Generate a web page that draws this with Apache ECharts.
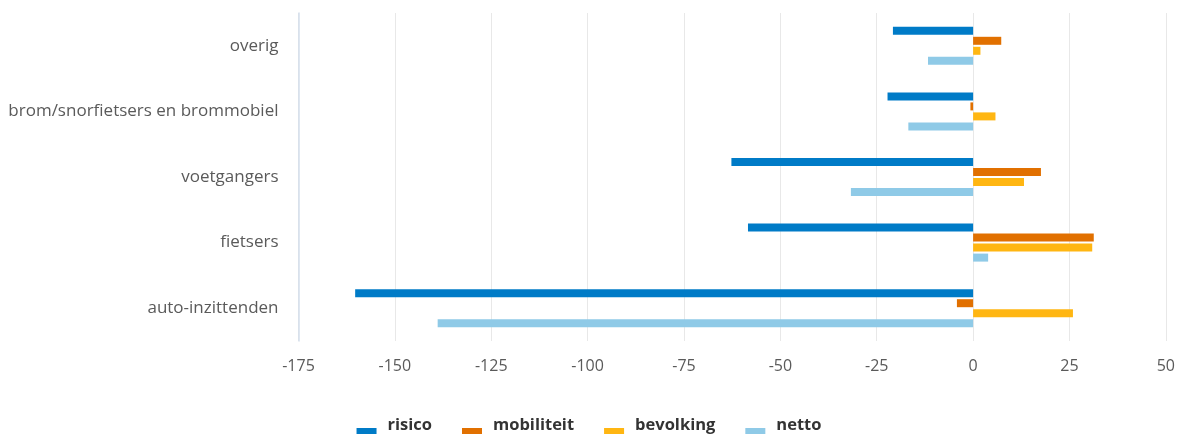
<!DOCTYPE html>
<html>
<head>
<meta charset="utf-8">
<script src="https://cdn.jsdelivr.net/npm/echarts@6/dist/echarts.min.js"></script>
<style>
html,body{margin:0;padding:0;background:#fff;}
#chart{width:1178px;height:434px;}
</style>
</head>
<body>
<div id="chart"></div>
<script>
// Categories, bottom to top as drawn on the y axis
var categories = ['auto-inzittenden', 'fietsers', 'voetgangers', 'brom/snorfietsers en brommobiel', 'overig'];
var seriesNames = ['risico', 'mobiliteit', 'bevolking', 'netto'];
var risico     = [-160.3, -58.4, -62.7, -22.2, -20.8];
var mobiliteit = [-4.2, 31.3, 17.6, -0.7, 7.3];
var bevolking  = [25.9, 30.9, 13.2, 5.8, 1.9];
var netto      = [-138.9, 3.9, -31.7, -16.8, -11.7];
var xTicks = { min: -175, max: 50, interval: 25 };

var colors = ['#007bc7', '#e17000', '#ffb612', '#8fcae7'];
var values = [risico, mobiliteit, bevolking, netto];

var chart = echarts.init(document.getElementById('chart'), null, { renderer: 'canvas' });
var font = '"Open Sans", "Noto Sans", sans-serif';
var legendIcon = 'path://M0,0 L26,0 L26,0.01 Z M0,12 L20,12 L20,18 L0,18 Z';

var series = seriesNames.map(function (name, i) {
  return {
    name: name,
    type: 'bar',
    data: values[i],
    barWidth: 8,
    barGap: '25%',
    itemStyle: { color: colors[i] },
    emphasis: { disabled: true },
    animation: false
  };
});

chart.setOption({
  animation: false,
  textStyle: { fontFamily: font },
  color: colors,
  grid: { left: 298.5, right: 9.5, top: 13, bottom: 93, containLabel: false },
  legend: {
    data: seriesNames.map(function (n) { return { name: n, icon: legendIcon }; }),
    top: 411,
    left: 'center',
    itemWidth: 26,
    itemHeight: 18,
    itemGap: 30,
    textStyle: { fontFamily: font, fontSize: 16.5, fontWeight: 'bold', color: '#333' }
  },
  xAxis: {
    type: 'value',
    min: xTicks.min,
    max: xTicks.max,
    interval: xTicks.interval,
    axisLine: { show: false },
    axisTick: { show: false },
    axisLabel: { color: '#5a5a5a', fontSize: 16, margin: 17, fontFamily: font },
    splitLine: { show: true, lineStyle: { color: '#e8e8e8', width: 1 } }
  },
  yAxis: {
    type: 'category',
    data: categories,
    axisLine: { show: true, onZero: false, lineStyle: { color: '#d5dfec', width: 1.5 } },
    axisTick: { show: false },
    axisLabel: { color: '#5a5a5a', fontSize: 17, margin: 20, fontFamily: font },
    splitLine: { show: false }
  },
  series: series
});
</script>
</body>
</html>
